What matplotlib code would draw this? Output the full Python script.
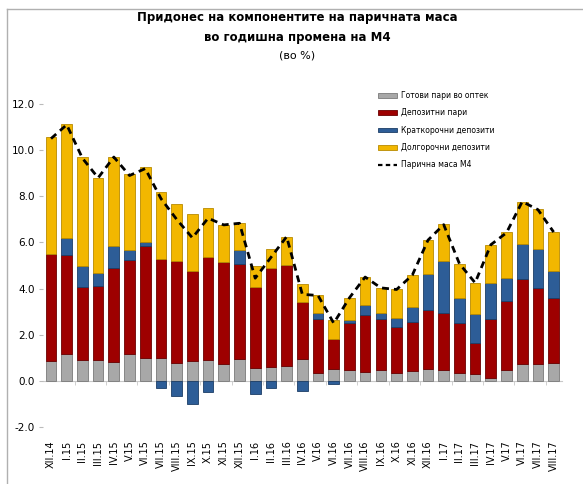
import matplotlib
matplotlib.use("Agg")
import matplotlib.pyplot as plt
import numpy as np
from matplotlib.lines import Line2D

months = ["XII.14",
          "I.15", "II.15", "III.15", "IV.15", "V.15", "VI.15", "VII.15", "VIII.15",
          "IX.15", "X.15", "XI.15", "XII.15",
          "I.16", "II.16", "III.16", "IV.16", "V.16", "VI.16", "VII.16", "VIII.16",
          "IX.16", "X.16", "XI.16", "XII.16",
          "I.17", "II.17", "III.17", "IV.17", "V.17", "VI.17", "VII.17", "VIII.17"]

# components (percentage points)
cash = [0.86, 1.18, 0.90, 0.90, 0.82, 1.15, 1.00, 1.00, 0.79, 0.86, 0.90, 0.72, 0.96,
        0.55, 0.62, 0.65, 0.96, 0.36, 0.53, 0.46, 0.40, 0.46, 0.36, 0.43, 0.53,
        0.46, 0.36, 0.29, 0.14, 0.47, 0.75, 0.72, 0.79]
demand = [4.65, 4.26, 3.17, 3.20, 4.08, 4.10, 4.83, 4.28, 4.39, 3.92, 4.45, 4.42, 4.12,
          3.52, 4.27, 4.37, 2.45, 2.33, 1.30, 2.06, 2.45, 2.20, 1.99, 2.12, 2.52,
          2.49, 2.16, 1.36, 2.52, 3.01, 3.67, 3.31, 2.81]
short_term = [0.00, 0.75, 0.89, 0.58, 0.93, 0.43, 0.18, -0.33, -0.65, -1.00, -0.47, 0.00, 0.60,
              -0.55, -0.33, 0.00, -0.43, 0.23, -0.12, 0.10, 0.42, 0.29, 0.36, 0.66, 1.58,
              2.23, 1.08, 1.26, 1.58, 0.98, 1.51, 1.68, 1.18]
long_term = [5.05, 4.96, 4.75, 4.12, 3.88, 3.28, 3.24, 2.92, 2.47, 2.44, 2.16, 1.62, 1.15,
             0.92, 0.82, 1.21, 0.79, 0.78, 0.80, 0.98, 1.22, 1.08, 1.25, 1.37, 1.49,
             1.61, 1.48, 1.33, 1.66, 1.99, 1.84, 1.73, 1.69]
m4 = [10.5, 11.1, 9.65, 8.8, 9.7, 8.9, 9.2, 7.9, 7.0, 6.2, 7.05, 6.76, 6.83,
      4.45, 5.35, 6.25, 3.75, 3.7, 2.5, 3.6, 4.5, 4.03, 3.96, 4.58, 6.1,
      6.77, 5.08, 4.25, 5.9, 6.42, 7.77, 7.42, 6.45]

names = ["Готови пари во оптек", "Депозитни пари", "Краткорочни депозити",
         "Долгорочни депозити", "Парична маса М4"]
colors = ["#a8a8a8", "#9e0000", "#2d5d97", "#f2b700"]
edges = ["#7a7a7a", "#6a0000", "#1c3d66", "#b88a00"]

narrow = ["Liberation Sans Narrow", "DejaVu Sans"]

fig = plt.figure(figsize=(5.83, 4.84), dpi=100)
ax = fig.add_axes([43.15 / 583, 1 - 427 / 484, (561.5 - 43.15) / 583, (427 - 104) / 484])

x = np.arange(len(months))
pos_base = np.zeros(len(months))
neg_base = np.zeros(len(months))
for vals, c, ec in zip([cash, demand, short_term, long_term], colors, edges):
    v = np.array(vals)
    bottom = np.where(v >= 0, pos_base, neg_base)
    ax.bar(x, v, width=0.68, bottom=bottom, color=c, edgecolor=ec, linewidth=0.6, zorder=2)
    pos_base = pos_base + np.clip(v, 0, None)
    neg_base = neg_base + np.clip(v, None, 0)

ax.plot(x, m4, color="black", lw=2, linestyle=(0, (2.5, 1.8)), zorder=3)

ax.set_xlim(-0.5, len(months) - 0.5)
ax.set_ylim(-2, 12)
ax.set_yticks(np.arange(-2, 13, 2))
ax.set_yticklabels([f"{t:.1f}" for t in np.arange(-2, 13, 2)], family=narrow, fontsize=7.5)
ax.tick_params(axis="y", length=3, color="#bbbbbb", pad=3)

for s in ["top", "right", "left"]:
    ax.spines[s].set_visible(False)
ax.spines["bottom"].set_position(("data", 0))
ax.spines["bottom"].set_color("#c8c8c8")
ax.spines["bottom"].set_zorder(1)
ax.set_xticks(x)
ax.set_xticklabels(months, rotation=90, fontsize=7, va="top", ha="center")
ax.set_xticks(np.arange(1.5, len(months), 2), minor=True)
ax.tick_params(axis="x", which="major", length=0, pad=43)
ax.tick_params(axis="x", which="minor", length=3, color="#c8c8c8")

handles = [plt.Rectangle((0, 0), 1, 1, facecolor=c, edgecolor=ec, lw=0.6)
           for c, ec in zip(colors, edges)]
handles.append(Line2D([0], [0], color="black", lw=1.6, linestyle=(0, (2, 1.5))))
fig.legend(handles, names, loc="upper left", bbox_to_anchor=(371 / 583, 1 - 84 / 484),
           frameon=False, prop={"family": narrow, "size": 5.5}, handlelength=2.5,
           handleheight=0.6, labelspacing=1.1, handletextpad=0.5)

fig.text(297 / 583, 1 - 18 / 484, "Придонес на компонентите на паричната маса",
         ha="center", va="center", fontsize=8.5, fontweight="bold", family=narrow)
fig.text(297 / 583, 1 - 37 / 484, "во годишна промена на М4",
         ha="center", va="center", fontsize=8.5, fontweight="bold", family=narrow)
fig.text(297 / 583, 1 - 56 / 484, "(во %)", ha="center", va="center",
         fontsize=8, family=narrow)

# chart frame
fig.add_artist(Line2D([7 / 583, 7 / 583], [0, 1 - 9 / 484], color="#b0b0b0", lw=1))
fig.add_artist(Line2D([7 / 583, 1], [1 - 9 / 484, 1 - 9 / 484], color="#b0b0b0", lw=1))

fig.savefig("out.png", dpi=100)
